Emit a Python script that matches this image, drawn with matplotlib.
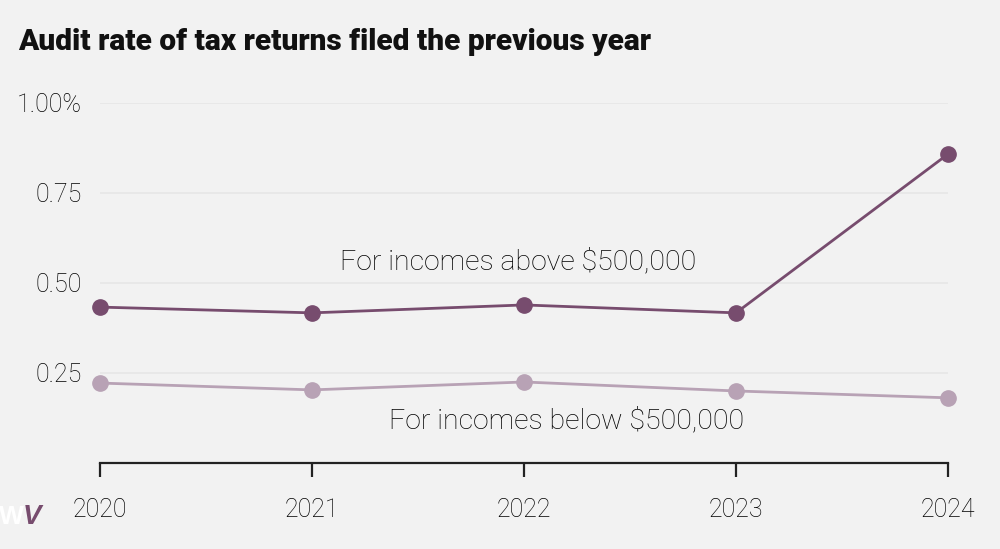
import matplotlib
matplotlib.use("Agg")
import matplotlib.pyplot as plt

years = [2020, 2021, 2022, 2023, 2024]
above = [0.433, 0.417, 0.439, 0.417, 0.858]
below = [0.222, 0.203, 0.225, 0.200, 0.181]
yticks = [0.25, 0.50, 0.75, 1.00]
ytick_labels = ["0.25", "0.50", "0.75", "1.00%"]

bg = "#f2f2f2"
dark = "#774c6e"
light = "#b8a2b5"
txt = "#000000"
FONT = ["Roboto", "DejaVu Sans"]

fig = plt.figure(figsize=(10, 5.49), dpi=100, facecolor=bg)
ax = fig.add_axes([0.1, 0.1567, 0.848, 0.6557], facecolor=bg)
ax.set_xlim(2020, 2024)
ax.set_ylim(0, 1.0)

for s in ["top", "right", "left"]:
    ax.spines[s].set_visible(False)
ax.spines["bottom"].set_color("#222222")
ax.spines["bottom"].set_linewidth(1.6)

ax.set_yticks(yticks)
ax.set_yticklabels(ytick_labels)
ax.yaxis.grid(True, color="#e6e6e6", linewidth=1.2)
ax.tick_params(axis="y", length=0, pad=13, labelsize=18, labelcolor=txt)
ax.set_xticks(years)
ax.set_xticklabels([str(y) for y in years])
ax.tick_params(axis="x", length=10, width=1.6, color="#222222", pad=15,
               labelsize=18, labelcolor=txt)
for lab in ax.get_xticklabels() + ax.get_yticklabels():
    lab.set_family(FONT)
    lab.set_fontweight("light")

ax.plot(years, below, color=light, lw=2, marker="o", ms=11, clip_on=False, zorder=3)
ax.plot(years, above, color=dark, lw=2, marker="o", ms=11, clip_on=False, zorder=4)

ax.text(2022 - 0.03, 0.56, "For incomes above $500,000", ha="center", va="center",
        fontsize=20.5, family=FONT, fontweight="light", color=txt)
ax.text(2022 + 0.2, 0.118, "For incomes below $500,000", ha="center", va="center",
        fontsize=20.5, family=FONT, fontweight="light", color=txt)

fig.text(0.018, 0.923, "Audit rate of tax returns filed the previous year",
         ha="left", va="center", fontsize=21.5, fontweight="heavy",
         family=FONT, color="#111111")

fig.text(-0.001, 0.058, "W", ha="left", va="center", fontsize=19, fontweight="bold",
         color="white", family="Liberation Sans")
fig.text(0.023, 0.058, "V", ha="left", va="center", fontsize=20, fontweight="bold",
         color=dark, family="Liberation Sans", style="italic")

fig.savefig("out.png", dpi=100, facecolor=bg)
